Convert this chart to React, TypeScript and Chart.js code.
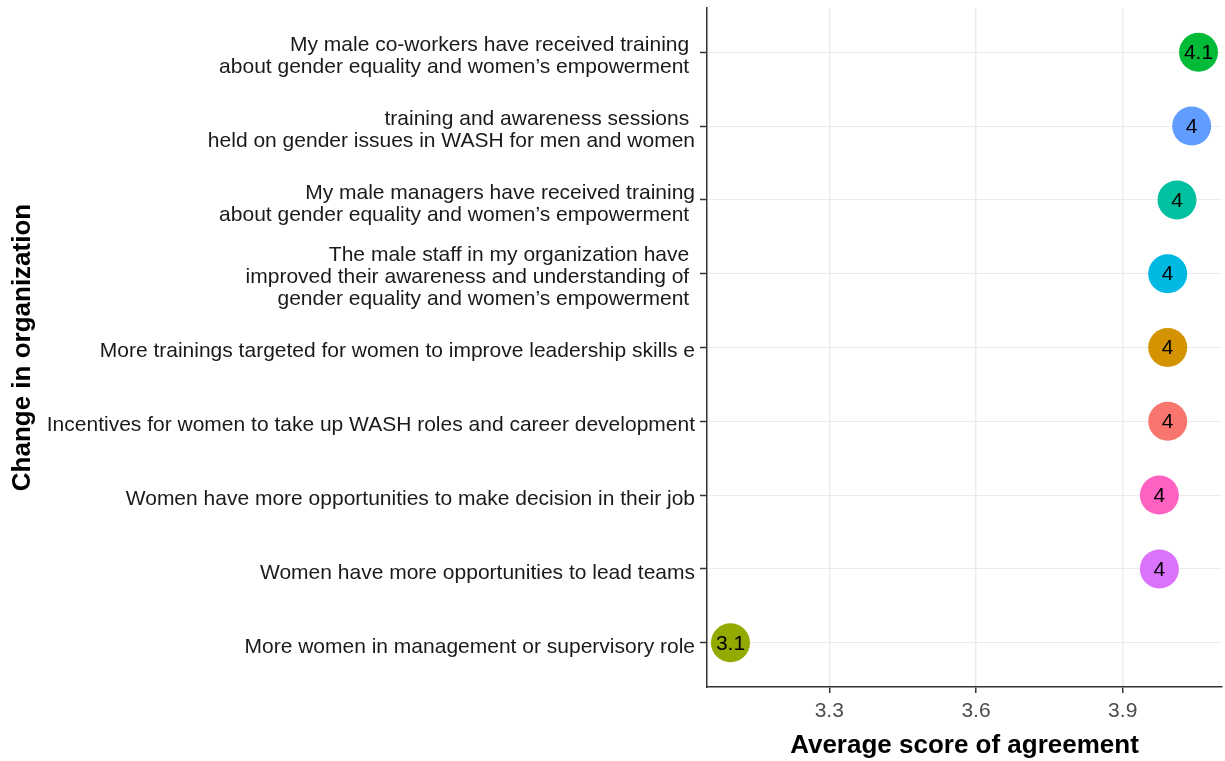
import React, { useEffect, useRef } from 'react';
import { Chart, registerables } from 'chart.js';

Chart.register(...registerables);

const FONT = '"Liberation Sans", Arial, Helvetica, sans-serif';

const categoryLines: string[][] = [
  ['My male co-workers have received training ', 'about gender equality and women’s empowerment '],
  ['training and awareness sessions ', 'held on gender issues in WASH for men and women'],
  ['My male managers have received training', 'about gender equality and women’s empowerment '],
  ['The male staff in my organization have ', 'improved their awareness and understanding of ', 'gender equality and women’s empowerment '],
  ['More trainings targeted for women to improve leadership skills e'],
  ['Incentives for women to take up WASH roles and career development'],
  ['Women have more opportunities to make decision in their job'],
  ['Women have more opportunities to lead teams'],
  ['More women in management or supervisory role'],
];

const scores: number[] = [4.055, 4.041, 4.011, 3.992, 3.992, 3.992, 3.975, 3.975, 3.098];

const pointColors: string[] = [
  '#00BA38', '#619CFF', '#00C19F', '#00B9E3', '#D39200',
  '#F8766D', '#FF61C3', '#DB72FB', '#93AA00',
];

const pointLabels: string[] = scores.map((v) => String(Math.round(v * 10) / 10));

const xTicks: number[] = [3.3, 3.6, 3.9];
const xTitle = 'Average score of agreement';
const yTitle = 'Change in organization';

const pointLabelPlugin = {
  id: 'pointLabelPlugin',
  afterDatasetsDraw(chart: any) {
    const ctx = chart.ctx;
    const meta = chart.getDatasetMeta(0);
    ctx.save();
    ctx.font = `21px ${FONT}`;
    ctx.fillStyle = '#000000';
    ctx.textAlign = 'center';
    ctx.textBaseline = 'middle';
    meta.data.forEach((el: any, i: number) => {
      ctx.fillText(pointLabels[i], el.x, el.y + 1);
    });
    ctx.restore();
  },
};

const zeroPadding = (s: any) => {
  s.paddingTop = 0;
  s.paddingBottom = 0;
  s.paddingLeft = 0;
  s.paddingRight = 0;
};

export default function App() {
  const canvasRef = useRef<HTMLCanvasElement | null>(null);

  useEffect(() => {
    const canvas = canvasRef.current;
    if (!canvas) return;
    Chart.defaults.font.family = FONT;
    const chart = new Chart(canvas, {
      type: 'scatter',
      data: {
        datasets: [
          {
            data: scores.map((v, i) => ({ x: v, y: i })),
            pointRadius: 19.5,
            pointHoverRadius: 19.5,
            pointBackgroundColor: pointColors,
            pointBorderWidth: 0,
            borderWidth: 0,
          },
        ],
      },
      options: {
        responsive: false,
        animation: false,
        events: [],
        layout: { autoPadding: false, padding: { top: 8, right: 3, left: 0, bottom: 0 } },
        plugins: {
          legend: { display: false },
          tooltip: { enabled: false },
        },
        scales: {
          x: {
            type: 'linear',
            min: 3.05,
            max: 4.103,
            afterBuildTicks: (s: any) => {
              s.ticks = xTicks.map((v) => ({ value: v }));
            },
            afterFit: (s: any) => {
              s.height = 74;
              zeroPadding(s);
            },
            grid: {
              color: '#EBEBEB',
              lineWidth: 1.5,
              tickColor: '#333333',
              tickLength: 6,
              tickWidth: 1.5,
            },
            border: { color: '#333333', width: 1.5 },
            ticks: {
              color: '#4D4D4D',
              font: { family: FONT, size: 21, lineHeight: 1.2 },
              padding: 6,
              maxRotation: 0,
              autoSkip: false,
              callback: (v: any) => String(v),
            },
            title: {
              display: true,
              text: xTitle,
              color: '#000000',
              font: { family: FONT, size: 26, weight: 'bold', lineHeight: 1.2 },
              padding: { top: 0, bottom: 0 },
            },
          },
          y: {
            type: 'linear',
            min: -0.6,
            max: 8.6,
            reverse: true,
            afterBuildTicks: (s: any) => {
              s.ticks = categoryLines.map((_, i) => ({ value: i }));
            },
            afterFit: (s: any) => {
              s.width = 707;
              zeroPadding(s);
            },
            grid: {
              color: '#EBEBEB',
              lineWidth: 1,
              tickColor: '#333333',
              tickLength: 7,
              tickWidth: 1.5,
            },
            border: { color: '#333333', width: 1.5 },
            ticks: {
              color: '#1A1A1A',
              font: { family: FONT, size: 21, lineHeight: 22 / 21 },
              padding: 5,
              labelOffset: 4,
              autoSkip: false,
              callback: (v: any) => categoryLines[Math.round(Number(v))] ?? '',
            },
            title: {
              display: true,
              text: yTitle,
              color: '#000000',
              font: { family: FONT, size: 26, weight: 'bold', lineHeight: 1.2 },
              padding: { top: 7, bottom: 0 },
            },
          },
        },
      },
      plugins: [pointLabelPlugin],
    } as any);
    return () => chart.destroy();
  }, []);

  return (
    <div style={{ position: 'absolute', left: 0, top: 0, width: 1225, height: 761, background: '#ffffff' }}>
      <canvas ref={canvasRef} width={1225} height={761} style={{ display: 'block' }} />
    </div>
  );
}
